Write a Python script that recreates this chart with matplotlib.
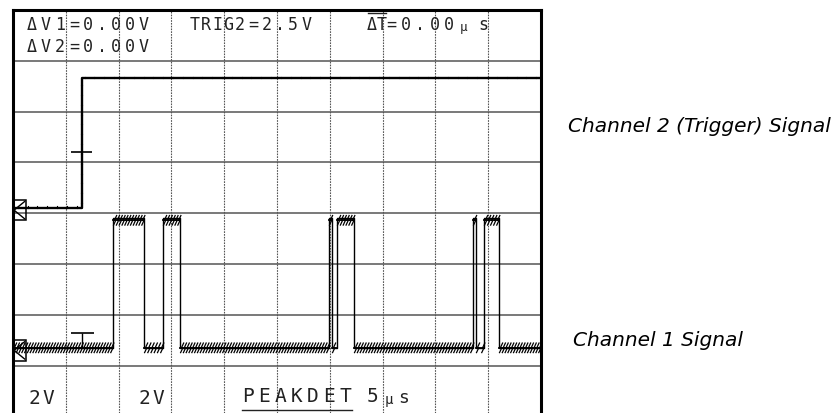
import matplotlib
matplotlib.use('Agg')
import matplotlib.pyplot as plt
from matplotlib import patheffects as pe
from matplotlib.lines import Line2D
from matplotlib.patches import Rectangle
import numpy as np

W, H = 839, 413

# scope settings: 5 us/div, 10 divisions across, 2 V/div on both channels
time_per_div = 5.0
n_xdiv = 10
volts_per_div = 2.0

# channel 1: pulse edges in us
ch1_rise = [9.47, 14.20, 29.92, 30.68, 43.56, 44.60]
ch1_fall = [12.41, 15.82, 30.21, 32.29, 43.84, 46.02]
ch1_low = 0.1      # V
ch1_high = 5.2     # V
ch1_ground = 0.3   # divisions above bottom graticule line

# channel 2 (trigger)
ch2_edge = 6.53    # us
ch2_low = 0.1
ch2_high = 5.2
ch2_ground = 3.06
trig_marker = 2.3  # V, where the trigger level mark sits


def div(ground, volts):
    return ground + volts / volts_per_div


def px(x, y):
    return x / W, 1 - y / H


def lcd(x, y, s, pitch, size, **kw):
    # scope font: fixed pitch per character
    for i, ch in enumerate(s):
        fx, fy = px(x + i * pitch, y)
        fig.text(fx, fy, ch, fontsize=size, family='DejaVu Sans Mono',
                 color='#222', ha='left', va='center', **kw)


fig = plt.figure(figsize=(W / 100, H / 100), dpi=100)
fig.patch.set_facecolor('white')
ax = fig.add_axes([13 / W, 0, 528 / W, 403 / H])
x_max = time_per_div * n_xdiv
ax.set_xlim(0, x_max)
ax.set_ylim(7 - 403 / 50.8, 7)
ax.set_xticks([])
ax.set_yticks([])
for side in ['top', 'left', 'right']:
    ax.spines[side].set_linewidth(2.2)
    ax.spines[side].set_color('black')
ax.spines['bottom'].set_visible(False)

# graticule
for yv in range(0, 7):
    ax.axhline(yv, color='#555555', lw=1.1, zorder=1)
for k in range(1, n_xdiv):
    ax.axvline(k * time_per_div, color='#555555', lw=0.8,
               linestyle=(0, (1.5, 1.0)), zorder=1)

# channel 2 trace
lo2, hi2 = div(ch2_ground, ch2_low), div(ch2_ground, ch2_high)
ax.plot([0, ch2_edge, ch2_edge, x_max], [lo2, lo2, hi2, hi2],
        color='black', lw=1.7, zorder=3, solid_joinstyle='round',
        path_effects=[pe.TickedStroke(spacing=7, angle=90, length=0.12,
                                      linewidth=0.8), pe.Normal()])

# channel 1 trace
lo1, hi1 = div(ch1_ground, ch1_low), div(ch1_ground, ch1_high)
xs, ys = [0], [lo1]
for r, f in zip(ch1_rise, ch1_fall):
    xs += [r, r, f, f]
    ys += [lo1, hi1, hi1, lo1]
xs.append(x_max)
ys.append(lo1)
ax.plot(xs, ys, color='black', lw=1.0, zorder=3)

# peak-detect noise on the flat parts of channel 1
noise = [
    pe.TickedStroke(spacing=2.0, angle=65, length=1.9, linewidth=0.9),
    pe.TickedStroke(offset=(1.0, 0), spacing=2.0, angle=-115, length=1.9,
                    linewidth=0.9),
    pe.Normal(),
]
edges_lo = [0] + ch1_fall
edges_hi = ch1_rise + [x_max]
for a, b in zip(edges_lo, edges_hi):
    ax.plot([a, b], [lo1, lo1], color='black', lw=1.3, zorder=3,
            path_effects=noise)
for a, b in zip(ch1_rise, ch1_fall):
    ax.plot([a, b], [hi1 - 0.04, hi1 - 0.04], color='black', lw=1.3,
            zorder=3, path_effects=noise)

# ground markers at the left edge
bt = ax.get_yaxis_transform()
for g in [ch1_ground, ch2_ground]:
    ax.add_patch(Rectangle((0, g - 0.2), 0.024, 0.4, transform=bt,
                           fill=False, ec='black', lw=1.1, zorder=4))
    ax.plot([0.022, 0.002, 0.022], [g + 0.17, g, g - 0.17], transform=bt,
            color='black', lw=1.0, zorder=4)

# trigger level mark on ch2 and trigger point mark on ch1
tl = div(ch2_ground, trig_marker)
ax.hlines(tl, ch2_edge - 1.0, ch2_edge + 0.95, color='black', lw=1.2, zorder=4)
ax.hlines(ch1_ground + 0.35, ch2_edge - 1.0, ch2_edge + 1.1, color='black',
          lw=1.2, zorder=4)
ax.vlines(ch2_edge, lo1 + 0.02, ch1_ground + 0.35, color='black', lw=1.0,
          zorder=4)

# header readout
lcd(27, 25, 'ΔV1=0.00V', 14, 12)
lcd(27, 47, 'ΔV2=0.00V', 14, 12)
lcd(190, 25, 'TRIG', 11, 12)
lcd(235, 25, '2=2.5V', 13.3, 12)
lcd(367, 25, 'ΔT', 9.5, 12)
lcd(386, 25, '=0.00', 14.5, 12)
lcd(460, 27, 'µ', 8, 9)
lcd(478, 25, 's', 8, 12)
fig.add_artist(Line2D([368 / W, 386 / W], [1 - 13 / H, 1 - 13 / H],
                      color='#222', lw=1.0))

# footer readout
lcd(28, 399, '2V', 14, 14)
lcd(138, 399, '2V', 14, 14)
lcd(242, 397, 'PEAKDET', 16.3, 14)
fig.add_artist(Line2D([242 / W, 352 / W], [1 - 410 / H, 1 - 410 / H],
                      color='#222', lw=1.0))
lcd(367, 397, '5', 14, 14)
lcd(385, 400, 'µ', 8, 10)
lcd(398, 398, 's', 8, 13)

# channel labels
fig.text(*px(568, 127), 'Channel 2 (Trigger) Signal', fontsize=14.5,
         style='italic', family='DejaVu Sans', va='center', ha='left')
fig.text(*px(573, 341), 'Channel 1 Signal', fontsize=14.5,
         style='italic', family='DejaVu Sans', va='center', ha='left')

fig.savefig('out.png', dpi=100)
